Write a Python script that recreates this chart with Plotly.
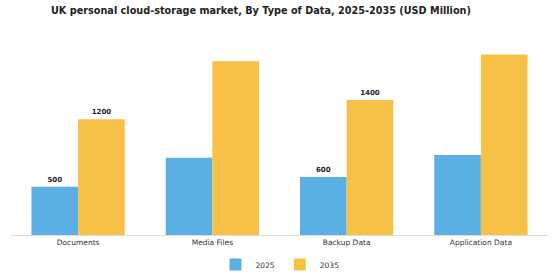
import plotly.graph_objects as go

categories = ["Documents", "Media Files", "Backup Data", "Application Data"]
series_names = ["2025", "2035"]
values_2025 = [500, 800, 600, 830]
values_2035 = [1200, 1800, 1400, 1870]
labeled = [True, False, True, False]
colors = ["#5AAFE3", "#F7C046"]

def labels(vals):
    return [str(v) if show else "" for v, show in zip(vals, labeled)]

fig = go.Figure()
for name, vals, col in zip(series_names, [values_2025, values_2035], colors):
    fig.add_trace(go.Bar(
        x=categories, y=vals, name=name, marker_color=col,
        marker_line_width=0,
        text=labels(vals), textposition="outside",
        textfont=dict(family="DejaVu Sans", size=7, color="#222"),
        cliponaxis=False,
    ))

fig.update_layout(
    width=560, height=280,
    margin=dict(l=11, r=12, t=42, b=45, autoexpand=False),
    paper_bgcolor="white", plot_bgcolor="white",
    barmode="group", bargap=0.305, bargroupgap=0,
    title=dict(text="<b>UK personal cloud-storage market, By Type of Data, 2025-2035 (USD Million)</b>",
               x=0.466, xanchor="center", y=0.962, yanchor="middle",
               font=dict(family="DejaVu Sans", size=9.7, color="#222")),
    font=dict(family="DejaVu Sans", size=7.5, color="#333"),
    legend=dict(orientation="h", x=0.5, xanchor="center", y=0.055, yanchor="middle",
                xref="container", yref="container",
                font=dict(size=7.5, color="#333"), itemwidth=30),
    showlegend=True,
)
fig.update_xaxes(showline=True, linecolor="#dddddd", linewidth=1, ticks="",
                 tickfont=dict(size=7.5, color="#333"), showgrid=False)
fig.update_yaxes(visible=False, range=[0, 2000], showgrid=False)
fig.update_traces(texttemplate="<b>%{text}</b>")

fig.write_html("out.html")
